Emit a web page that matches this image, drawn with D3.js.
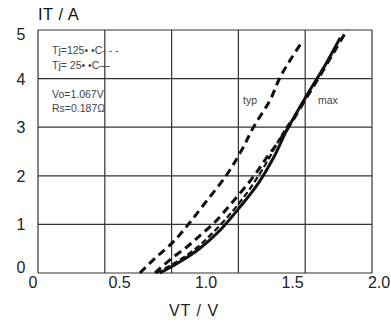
<!DOCTYPE html>
<html>
<head>
<meta charset="utf-8">
<script src="https://cdn.jsdelivr.net/npm/d3@7"></script>
<style>
  body { margin: 0; background: #fff; }
  text { font-family: "Liberation Sans", Arial, sans-serif; }
</style>
</head>
<body>
<div id="chart"></div>
<script>
var w = 391, h = 324;
var plotL = 38, plotR = 372, plotT = 30, plotB = 273;

// tick labels
var xTicks = [0, 0.5, 1.0, 1.5, 2.0];
var xTickText = ["0", "0.5", "1.0", "1.5", "2.0"];
var xGrid = [0, 0.4, 0.8, 1.2, 1.6, 2.0]; // the scan's grid does not line up with the labels
var yTicks = [0, 1, 2, 3, 4, 5];

// curves, VT in V / IT in A
var t125TypV = [0.61, 0.70, 0.81, 0.90, 1.00, 1.126, 1.22, 1.29, 1.39, 1.45, 1.51, 1.58];
var t125TypI = [0, 0.30, 0.64, 1.0, 1.44, 2.0, 2.53, 3.0, 3.56, 4.03, 4.38, 4.75];
var t125MaxV = [0.70, 0.80, 0.90, 0.98, 1.06, 1.16, 1.29, 1.36, 1.44, 1.50, 1.60, 1.69, 1.78, 1.85];
var t125MaxI = [0, 0.30, 0.56, 0.80, 1.05, 1.44, 1.98, 2.33, 2.70, 3.0, 3.56, 4.07, 4.59, 5.0];
var t25TypV = [0.71, 0.83, 0.94, 1.05, 1.17, 1.28, 1.37, 1.45, 1.51];
var t25TypI = [0, 0.23, 0.49, 0.84, 1.29, 1.79, 2.28, 2.78, 3.11];
var t25MaxV = [0.73, 0.85, 0.97, 1.09, 1.21, 1.32, 1.41, 1.49, 1.61, 1.72, 1.81];
var t25MaxI = [0, 0.23, 0.51, 0.88, 1.36, 1.85, 2.37, 2.94, 3.66, 4.28, 4.84];

var notes = ["Tj=125\u2022 \u2022C- - -", "Tj= 25\u2022 \u2022C\u2014", "", "Vo=1.067V", "Rs=0.187\u03a9"];

var svg = d3.select("#chart").append("svg")
  .attr("width", w).attr("height", h);

var x = d3.scaleLinear().domain([0, 2]).range([plotL, plotR]);
var xLab = d3.scaleLinear().domain([0, 2]).range([33, 379]);
var y = d3.scaleLinear().domain([0, 5]).range([plotB, plotT]);

// grid
svg.selectAll("line.vg").data(xGrid).enter().append("line")
  .attr("x1", function(d) { return x(d); }).attr("x2", function(d) { return x(d); })
  .attr("y1", plotT).attr("y2", plotB)
  .attr("stroke", "#333").attr("stroke-width", 1.2);
svg.selectAll("line.hg").data(yTicks).enter().append("line")
  .attr("x1", plotL).attr("x2", plotR)
  .attr("y1", function(d) { return y(d); }).attr("y2", function(d) { return y(d); })
  .attr("stroke", "#333").attr("stroke-width", 1.2);

// tick labels
svg.selectAll("text.xt").data(xTicks).enter().append("text")
  .attr("x", function(d) { return xLab(d); }).attr("y", 288)
  .attr("text-anchor", "middle").attr("font-size", 16).attr("fill", "#222")
  .text(function(d, i) { return xTickText[i]; });
svg.selectAll("text.yt").data(yTicks).enter().append("text")
  .attr("x", 21).attr("y", function(d) { return y(d) + 6 + (d == 5 ? 4 : 0) - (d == 0 ? 6 : 0); })
  .attr("text-anchor", "middle").attr("font-size", 16).attr("fill", "#222")
  .text(function(d) { return d; });

svg.append("text").attr("x", 38).attr("y", 20).attr("font-size", 16.5)
  .attr("letter-spacing", 0.5).attr("fill", "#111").text("IT / A");
svg.append("text").attr("x", 194).attr("y", 316).attr("text-anchor", "middle")
  .attr("font-size", 16).attr("letter-spacing", 1).attr("fill", "#222").text("VT / V");

// notes in the plot
svg.selectAll("text.note").data(notes).enter().append("text")
  .attr("x", 52).attr("y", function(d, i) { return 54 + i * 14.5; })
  .attr("font-size", 10.5).attr("fill", "#444")
  .text(function(d) { return d; });
svg.append("text").attr("x", 243).attr("y", 104).attr("font-size", 10.5)
  .attr("fill", "#444").text("typ");
svg.append("text").attr("x", 318).attr("y", 104).attr("font-size", 10.5)
  .attr("fill", "#444").text("max");

// curves
var line = d3.line()
  .x(function(d) { return x(d[0]); })
  .y(function(d) { return y(d[1]); })
  .curve(d3.curveCatmullRom.alpha(0.5));

var curves = [
  { v: t125TypV, i: t125TypI, dash: "8,5", sw: 3 },
  { v: t125MaxV, i: t125MaxI, dash: "8,5", sw: 3 },
  { v: t25TypV, i: t25TypI, dash: "6,3", sw: 2.2 },
  { v: t25MaxV, i: t25MaxI, dash: null, sw: 3 }
];

svg.selectAll("path.curve").data(curves).enter().append("path")
  .attr("fill", "none").attr("stroke", "#111")
  .attr("stroke-width", function(d) { return d.sw; })
  .attr("stroke-dasharray", function(d) { return d.dash; })
  .attr("d", function(d) { return line(d3.zip(d.v, d.i)); });
</script>
</body>
</html>
